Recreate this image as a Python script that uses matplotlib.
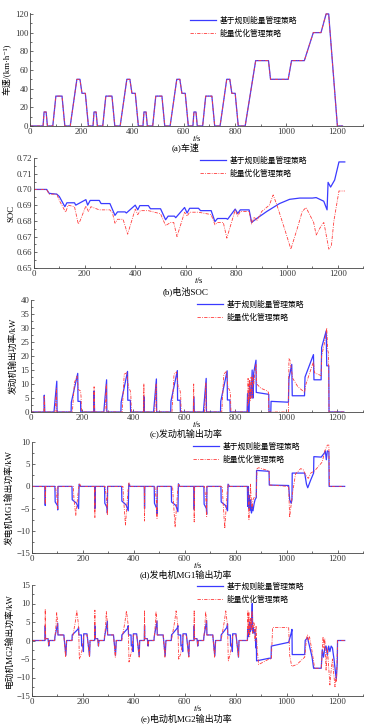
import numpy as np
import matplotlib
matplotlib.use('Agg')
from matplotlib import pyplot as plt
from matplotlib.ticker import MultipleLocator, FormatStrFormatter

plt.rcParams['font.family'] = ['Liberation Serif', 'Noto Sans CJK SC', 'DejaVu Serif']
plt.rcParams['mathtext.fontset'] = 'stix'
plt.rcParams['axes.unicode_minus'] = True

label_rule = '基于规则能量管理策略'
label_opt = '能量优化管理策略'

# (a) vehicle speed, km/h
speed_t = [0, 51, 55, 63, 68, 89, 101, 125, 136, 157, 183, 195, 203, 216, 228,
           246, 250, 258, 263, 284, 296, 320, 331, 352, 378, 390, 398, 411, 423,
           441, 445, 453, 458, 479, 491, 515, 526, 547, 573, 585, 593, 606, 618,
           636, 640, 648, 653, 674, 686, 710, 721, 742, 768, 780, 788, 801, 813,
           840, 881, 931, 939, 1008, 1021, 1071, 1106, 1136, 1156, 1166, 1200, 1220]
speed_v = [0, 0, 15, 15, 0, 0, 32, 32, 0, 0, 50, 50, 35, 35, 0,
           0, 15, 15, 0, 0, 32, 32, 0, 0, 50, 50, 35, 35, 0,
           0, 15, 15, 0, 0, 32, 32, 0, 0, 50, 50, 35, 35, 0,
           0, 15, 15, 0, 0, 32, 32, 0, 0, 50, 50, 35, 35, 0,
           0, 70, 70, 50, 50, 70, 70, 100, 100, 120, 120, 0, 0]

# (b) battery SOC
soc_t_rule = [0, 50, 60, 90, 100, 122, 130, 160, 165, 205, 212, 222, 258, 265, 300,
              320, 330, 360, 365, 400, 410, 418, 452, 460, 500, 520, 530, 555, 560, 595,
              605, 615, 650, 658, 700, 715, 725, 760, 765, 795, 805, 815, 850, 860, 880,
              920, 970, 1010, 1050, 1100, 1115, 1145, 1158, 1162, 1172, 1188, 1205, 1228]
soc_v_rule = [0.700, 0.700, 0.6975, 0.697, 0.6955, 0.689, 0.6915, 0.6915, 0.690, 0.6935,
              0.690, 0.693, 0.693, 0.691, 0.691, 0.6835, 0.6857, 0.6857, 0.685, 0.690,
              0.687, 0.6897, 0.6897, 0.6877, 0.6877, 0.6807, 0.683, 0.683, 0.682, 0.6885,
              0.685, 0.688, 0.688, 0.6865, 0.6865, 0.6795, 0.6815, 0.6815, 0.681, 0.6875,
              0.6847, 0.687, 0.687, 0.679, 0.6815, 0.686, 0.691, 0.6937, 0.6945, 0.6945,
              0.6948, 0.6925, 0.687, 0.7045, 0.7015, 0.706, 0.7175, 0.7175]
soc_t_opt = [0, 50, 60, 90, 100, 125, 135, 160, 175, 182, 205, 215, 225, 258, 300,
             310, 320, 330, 352, 370, 400, 410, 420, 452, 500, 520, 540, 552, 565, 595,
             605, 615, 650, 700, 715, 725, 748, 762, 795, 805, 815, 850, 860, 870, 880,
             900, 930, 945, 960, 990, 1015, 1040, 1060, 1075, 1105, 1115, 1130, 1145, 1150,
             1165, 1175, 1185, 1205, 1228]
soc_v_opt = [0.700, 0.700, 0.697, 0.697, 0.693, 0.6855, 0.690, 0.689, 0.678, 0.680,
             0.6895, 0.686, 0.689, 0.687, 0.687, 0.685, 0.6785, 0.681, 0.681, 0.6715,
             0.6875, 0.684, 0.6865, 0.6865, 0.6845, 0.677, 0.679, 0.679, 0.670, 0.6855,
             0.683, 0.6855, 0.6855, 0.684, 0.6775, 0.679, 0.679, 0.669, 0.687, 0.683,
             0.686, 0.686, 0.678, 0.6825, 0.680, 0.686, 0.690, 0.6965, 0.690, 0.675,
             0.662, 0.675, 0.686, 0.6885, 0.679, 0.671, 0.6755, 0.679, 0.675, 0.662,
             0.664, 0.680, 0.699, 0.699]

# (c) engine power, kW
eng_t_rule = [0, 51, 52, 54, 90, 101, 102, 157, 158, 183, 184, 194, 195,
              246, 247, 249, 285, 296, 297, 352, 353, 378, 379, 389, 390,
              441, 442, 444, 480, 491, 492, 547, 548, 573, 574, 584, 585,
              636, 637, 639, 675, 686, 687, 742, 743, 768, 769, 779, 780,
              846, 848, 850, 854, 856, 859, 862, 866, 868, 870, 872, 881, 882, 931, 932,
              939, 940, 1008, 1010, 1021, 1023, 1071, 1073, 1106, 1108, 1136, 1138, 1156,
              1158, 1166, 1167, 1225]
eng_v_rule = [0, 0, 6, 0, 0, 11, 0, 0, 3.5, 13.8, 3.8, 3.8, 0,
              0, 7.5, 0, 0, 11.5, 0, 0, 3.5, 14.5, 4.2, 4.2, 0,
              0, 5.5, 0, 0, 11.8, 0, 0, 3.8, 14.8, 4.2, 4.2, 0,
              0, 5.5, 0, 0, 12, 0, 0, 3.8, 14.7, 4.3, 4.3, 0,
              0, 6.5, 0, 0, 11, 5, 5, 15, 5, 5, 14, 18.5, 7, 6.3, 0,
              0, 3.8, 3.5, 12, 17, 5.8, 5.8, 12.5, 20.5, 11.5, 11.5, 23, 29,
              16.5, 16.5, 0, 0]
eng_t_opt = [0, 51, 52, 53, 94, 100, 101, 162, 170, 180, 186, 194, 196, 198,
             246, 247, 248, 289, 295, 296, 357, 365, 375, 381, 389, 391, 393,
             441, 442, 443, 484, 490, 491, 552, 560, 570, 576, 584, 586, 588,
             636, 637, 638, 679, 685, 686, 747, 755, 765, 771, 779, 781, 783,
             848, 850, 852, 856, 858, 862, 866, 868, 872, 878, 881, 884, 900, 925, 930,
             931, 1008, 1010, 1014, 1025, 1045, 1065, 1071, 1075, 1106, 1110, 1136, 1138,
             1150, 1158, 1162, 1165, 1167, 1225]
eng_v_opt = [0, 0, 5.5, 0, 0, 8.5, 0, 0, 10.5, 12.8, 8, 7.5, 5.5, 0,
             0, 9, 0, 0, 10, 0, 0, 13.5, 14, 9, 7.5, 5.8, 0,
             0, 10, 0, 0, 10, 0, 0, 13.5, 14.3, 9, 7.5, 6, 0,
             0, 10, 0, 0, 10.5, 0, 0, 13.5, 14.5, 9, 7.5, 6, 0,
             0, 12, 3, 11.5, 4, 12.5, 5, 13, 10, 15, 17, 10, 8.5, 7.5, 7,
             0, 0, 19, 18.5, 12, 9, 7.5, 7, 9.5, 18, 14, 13, 20,
             25, 30, 22, 21, 0, 0]

# (d) generator MG1 power, kW
mg1_t_rule = [0, 51, 52, 53, 90, 91, 100, 101, 102, 157, 158, 175, 183, 185, 190,
              246, 247, 248, 285, 286, 295, 296, 297, 352, 353, 370, 378, 380, 385,
              441, 442, 443, 480, 481, 490, 491, 492, 547, 548, 565, 573, 575, 580,
              636, 637, 638, 675, 676, 685, 686, 687, 742, 743, 760, 768, 770, 775,
              846, 847, 849, 852, 853, 856, 859, 862, 865, 868, 872, 876, 881, 882, 931,
              932, 1008, 1012, 1018, 1021, 1022, 1071, 1078, 1083, 1087, 1095, 1106, 1107,
              1136, 1148, 1152, 1156, 1160, 1166, 1167, 1228]
mg1_v_rule = [0, 0, -4.3, 0, 0, -3.5, -4.3, -5.3, 0, 0, -3, -3.8, -5, 0.5, 0,
              0, -5, 0, 0, -3.8, -4.8, -6, 0, 0, -3.3, -4.2, -5.5, 0.6, 0,
              0, -5, 0, 0, -3.8, -5, -6.2, 0, 0, -3.5, -4.3, -5.7, 0.6, 0,
              0, -5.2, 0, 0, -4, -5, -6.3, 0, 0, -3.5, -4.3, -5.5, 0.5, 0,
              0, -4.5, 0, -5, -2, -5.5, -3, -6, -4.5, -5.5, -4, -3, -2.5, 3.6, 3.4,
              0.3, 0.2, -3, -3.8, -3, 3, 3, 0.5, -0.3, 0.3, 1.5, 3, 6.7,
              6.6, 7.5, 8, 6, 8, 7.8, 0, 0]
mg1_t_opt = [0, 51, 52, 53, 92, 98, 101, 102, 162, 165, 172, 182, 186, 192,
             246, 247, 248, 287, 293, 296, 297, 357, 360, 367, 377, 381, 387,
             441, 442, 443, 482, 488, 491, 492, 552, 555, 562, 572, 576, 582,
             636, 637, 638, 677, 683, 686, 687, 747, 750, 757, 767, 771, 777,
             848, 852, 856, 858, 860, 864, 868, 872, 880, 884, 890, 931, 934, 1008,
             1012, 1016, 1022, 1035, 1055, 1065, 1075, 1085, 1095, 1110, 1125, 1140,
             1150, 1160, 1166, 1168, 1228]
mg1_v_opt = [0, 0, -4, 0, 0, -2.5, -5, 0, 0, -3, -6.5, -1, 0.7, 0,
             0, -7, 0, 0, -3, -6.5, 0, 0, -3, -8.7, -1, 0.8, 0,
             0, -7.8, 0, 0, -3, -7.2, 0, 0, -3, -9.2, -1, 0.6, 0,
             0, -8, 0, 0, -3, -6.8, 0, 0, -3, -9.5, -1, 0.5, 0,
             0, -7.5, -3, 0.5, -2, -5, -3, -2.5, -2.5, 4, 4.2, 3.5, 0.3, 0,
             -7, -5, -2, 2.8, 4, 3.8, 2.5, 1.8, 3, 3.5, 4.5, 5.5,
             8, 9.3, 9.3, 0, 0]

# (e) motor MG2 power, kW
mg2_t_rule = [0, 51, 52, 53, 63, 66, 68, 89, 90, 101, 102, 125, 133, 136,
              157, 158, 180, 183, 184, 194, 195, 200, 202, 203, 216, 226, 228,
              246, 247, 248, 258, 261, 263, 284, 285, 296, 297, 320, 328, 331,
              352, 353, 375, 378, 379, 389, 390, 395, 397, 398, 411, 421, 423,
              441, 442, 443, 453, 456, 458, 479, 480, 491, 492, 515, 523, 526,
              547, 548, 570, 573, 574, 584, 585, 590, 592, 593, 606, 616, 618,
              636, 637, 638, 648, 651, 653, 674, 675, 686, 687, 710, 718, 721,
              742, 743, 765, 768, 769, 779, 780, 785, 787, 788, 801, 811, 813,
              846, 847, 849, 852, 854, 856, 858, 862, 865, 867, 869, 872, 876, 879, 881,
              882, 931, 939, 940, 1008, 1018, 1021, 1022, 1071, 1073, 1082, 1090, 1100,
              1106, 1136, 1140, 1145, 1150, 1155, 1160, 1165, 1170, 1175, 1180, 1186,
              1195, 1199, 1200, 1228]
mg2_v_rule = [0, 0, 4, 0.5, 0.5, -1.5, 0, 0, 1, 4.7, 1.5, 1.5, -4, 0,
              0, 1.5, 3, 3.5, 1.5, 1.5, -1.5, -1.2, -3, 1.8, 1.8, -4.2, 0,
              0, 4, 0.5, 0.5, -1.5, 0, 0, 1, 5.2, 1.5, 1.5, -4, 0,
              0, 1.5, 3.2, 4, 1.5, 1.5, -1.5, -1.2, -3, 1.8, 1.8, -4.3, 0,
              0, 4, 0.5, 0.5, -1.5, 0, 0, 1, 5.3, 1.5, 1.5, -4.2, 0,
              0, 1.5, 3.3, 4, 1.5, 1.5, -1.5, -1.2, -3, 1.8, 1.8, -4.3, 0,
              0, 4, 0.5, 0.5, -1.5, 0, 0, 1, 5.4, 1.5, 1.5, -4.2, 0,
              0, 1.5, 3.5, 4.5, 1.5, 1.5, -1.5, -1.2, -3, 1.8, 1.8, -4.5, 0,
              0, 3, 1, 4, 2, 5, 2.5, 3.5, 10, 2, 3.5, 2, 3, -2, 0.5,
              -5.5, -4.8, -4.8, -1.5, -0.5, 2, 3, -3.8, -3.8, 0, 0.8, -1.5, -4.5,
              -7.5, -7.5, -2.5, -4.5, -2, -1.5, -4, -1.5, -3, -1.5, -2, -5,
              -10.5, -6, 0, 0]
mg2_t_opt = [0, 51, 52, 53, 63, 66, 68, 89, 94, 97, 100, 102, 125, 132, 136,
             157, 160, 170, 176, 183, 186, 194, 198, 203, 216, 226, 228,
             246, 247, 248, 258, 261, 263, 284, 289, 292, 295, 297, 320, 327, 331,
             352, 355, 365, 371, 378, 381, 389, 393, 398, 411, 421, 423,
             441, 442, 443, 453, 456, 458, 479, 484, 487, 490, 492, 515, 522, 526,
             547, 550, 560, 566, 573, 576, 584, 588, 593, 606, 616, 618,
             636, 637, 638, 648, 651, 653, 674, 679, 682, 685, 687, 710, 717, 721,
             742, 745, 755, 761, 768, 771, 779, 783, 788, 801, 811, 813,
             846, 848, 850, 852, 855, 858, 861, 864, 867, 870, 873, 876, 880, 884, 890,
             931, 940, 945, 1008, 1012, 1020, 1040, 1071, 1078, 1082, 1086, 1090, 1100,
             1110, 1136, 1140, 1143, 1147, 1150, 1155, 1160, 1165, 1170, 1175, 1180,
             1185, 1190, 1193, 1196, 1200, 1228]
mg2_v_opt = [0, 0, 8.5, 0.5, 0.5, -1.5, 0, 0, 4, 7.5, 5.5, 1.5, 1.5, -4.5, 0,
             0, 1, 5, 8, 4, -5, -3.5, -2, 1.5, 1.5, -4.5, 0,
             0, 8.2, 0.5, 0.5, -1.5, 0, 0, 4, 7.8, 5.5, 1.5, 1.5, -4.5, 0,
             0, 1, 5, 8, 4, -5.8, -3.5, -2, 1.5, 1.5, -4.5, 0,
             0, 8.2, 0.5, 0.5, -1.5, 0, 0, 4, 7.8, 5.5, 1.5, 1.5, -4.5, 0,
             0, 1, 5, 8, 4, -5.2, -3.5, -2, 1.5, 1.5, -4.5, 0,
             0, 8.2, 0.5, 0.5, -1.5, 0, 0, 4, 7.8, 5.5, 1.5, 1.5, -4.5, 0,
             0, 1, 5, 8, 4, -5.5, -3.5, -2, 1.5, 1.5, -4.5, 0,
             0, 8, 2, 7.5, 1, 6, 3, 8, 2, 5, 4.5, 0, 4, -2, -6.5,
             -5, -5, 3.5, 3.5, -4, -7, -6.5, -4.5, 0.5, 1.5, 0, 1, -3,
             -7.5, -7.5, -3, 1, -2, 0.5, -8, -2, -7, -12, -8, -5,
             -9, -12.5, -10, -11, 0, 0]

W, H = 372, 726
fig = plt.figure(figsize=(W / 100, H / 100), dpi=100)

blue = '#3a3aff'
red = '#ff3c3c'
fs = 6.3


def make_axes(left, top, bottom):
    ax = fig.add_axes([left / W, 1 - bottom / H, (363 - left) / W, (bottom - top) / H])
    ax.spines['top'].set_visible(False)
    ax.spines['right'].set_visible(False)
    for s in ['left', 'bottom']:
        ax.spines[s].set_linewidth(0.6)
        ax.spines[s].set_color('#444444')
    ax.tick_params(which='both', direction='in', labelsize=fs, width=0.5,
                   colors='#333333', pad=1.2)
    ax.tick_params(which='major', length=2.5)
    ax.tick_params(which='minor', length=1.5)
    ax.set_xlim(0, 1300)
    ax.xaxis.set_major_locator(MultipleLocator(200))
    ax.xaxis.set_minor_locator(MultipleLocator(100))
    ax.set_xlabel('$t$/s', fontsize=fs, labelpad=-2)
    return ax


def draw(ax, t1, v1, t2, v2, lx, ly):
    ax.plot(t1, v1, color=blue, lw=0.9, label=label_rule)
    ax.plot(t2, v2, color=red, lw=0.6, dashes=(4, 1.5, 1, 1.5), label=label_opt)
    ax.legend(loc='upper left', bbox_to_anchor=(lx / W, 1 - ly / H),
              bbox_transform=fig.transFigure, frameon=False, fontsize=5.6,
              handlelength=3.3, handletextpad=0.5, borderpad=0, borderaxespad=0,
              labelspacing=0.6)


def caption(text, y):
    fig.text(0.5, 1 - y / H, text, fontsize=6.5, ha='center', va='center')


# (a)
ax = make_axes(30, 13, 126)
draw(ax, speed_t, speed_v, speed_t, speed_v, 190, 17)
ax.set_ylim(0, 121)
ax.yaxis.set_major_locator(MultipleLocator(20))
ax.yaxis.set_minor_locator(MultipleLocator(10))
ax.set_ylabel('车速/(km·h⁻¹)', fontsize=fs, labelpad=2)
caption('(a)车速', 147)

# (b)
ax = make_axes(34, 158, 268)
draw(ax, soc_t_rule, soc_v_rule, soc_t_opt, soc_v_opt, 200, 157)
ax.set_ylim(0.65, 0.72)
ax.yaxis.set_major_locator(MultipleLocator(0.01))
ax.yaxis.set_minor_locator(MultipleLocator(0.005))
ax.yaxis.set_major_formatter(FormatStrFormatter('%.2f'))
ax.set_ylabel('SOC', fontsize=fs, labelpad=1)
caption('(b)电池SOC', 291)

# (c)
ax = make_axes(31, 300, 412)
draw(ax, eng_t_rule, eng_v_rule, eng_t_opt, eng_v_opt, 197, 301)
ax.set_ylim(0, 40)
ax.yaxis.set_major_locator(MultipleLocator(5))
ax.yaxis.set_minor_locator(MultipleLocator(2.5))
ax.set_ylabel('发动机输出功率/kW', fontsize=fs, labelpad=2)
caption('(c)发动机输出功率', 433)

# (d)
ax = make_axes(32, 442, 553)
draw(ax, mg1_t_rule, mg1_v_rule, mg1_t_opt, mg1_v_opt, 193, 443)
ax.set_ylim(-15, 10)
ax.yaxis.set_major_locator(MultipleLocator(5))
ax.yaxis.set_minor_locator(MultipleLocator(2.5))
ax.set_ylabel('发电机MG1输出功率/kW', fontsize=fs, labelpad=2)
caption('(d)发电机MG1输出功率', 574)

# (e)
ax = make_axes(32, 585, 696)
draw(ax, mg2_t_rule, mg2_v_rule, mg2_t_opt, mg2_v_opt, 197, 583)
ax.set_ylim(-15, 15)
ax.yaxis.set_major_locator(MultipleLocator(5))
ax.yaxis.set_minor_locator(MultipleLocator(2.5))
ax.set_ylabel('电动机MG2输出功率/kW', fontsize=fs, labelpad=2)
caption('(e)电动机MG2输出功率', 718)

fig.savefig('out.png', dpi=100, facecolor='white')
